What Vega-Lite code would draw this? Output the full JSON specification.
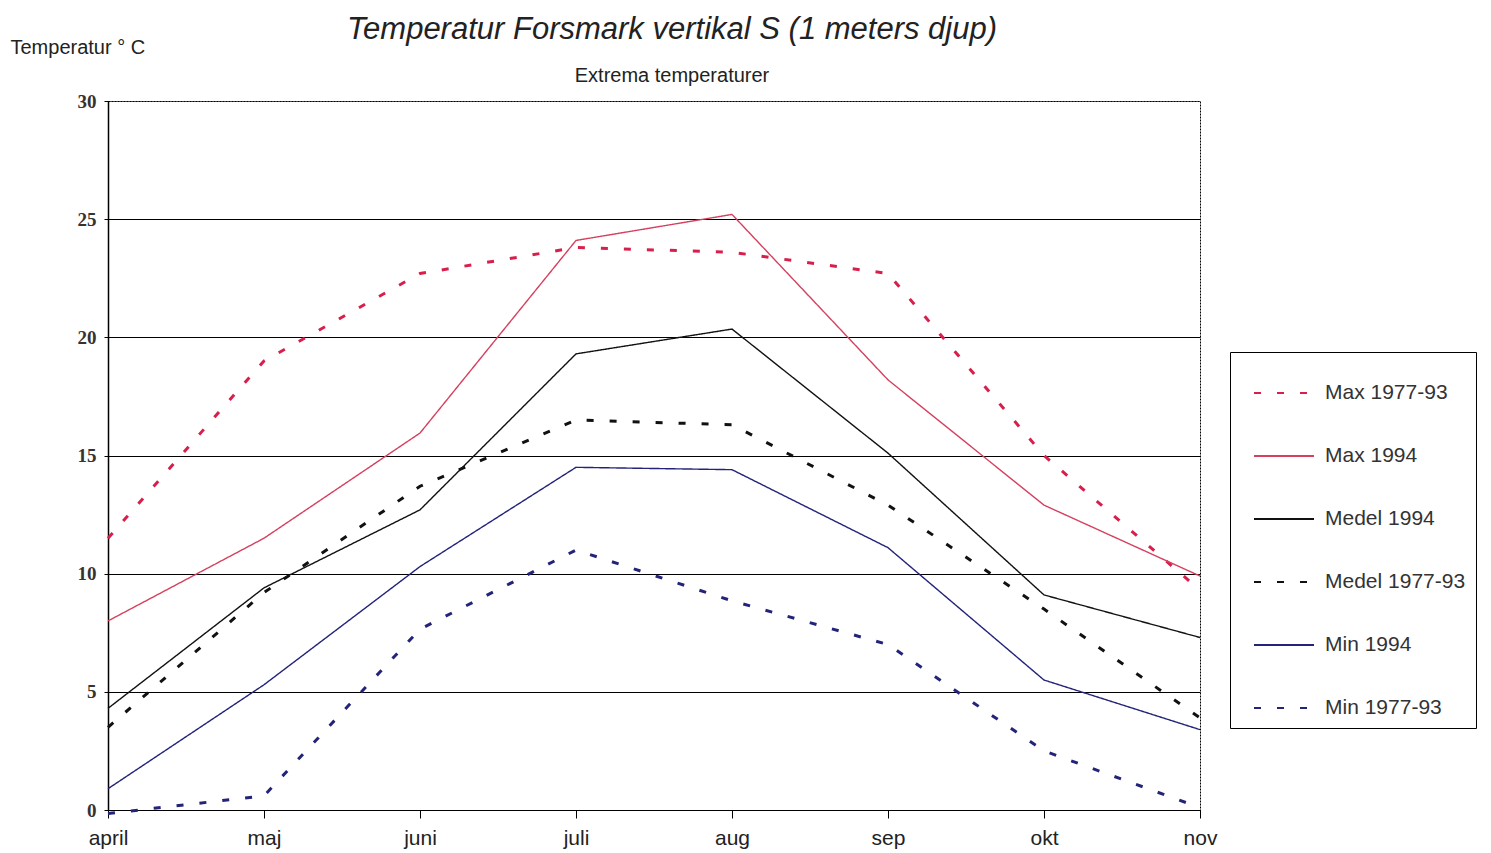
{
  "$schema": "https://vega.github.io/schema/vega-lite/v6.json",
  "width": 1092,
  "height": 709,
  "autosize": {"type": "none"},
  "padding": {"left": 108, "top": 101, "right": 291, "bottom": 43},
  "background": "white",
  "view": {"stroke": "black", "strokeDash": [2, 1], "strokeWidth": 1},
  "title": {
    "text": "Temperatur Forsmark vertikal S (1 meters djup)",
    "subtitle": "Extrema temperaturer",
    "font": "Liberation Sans",
    "fontSize": 31,
    "fontStyle": "italic",
    "fontWeight": "normal",
    "color": "#222",
    "subtitleFont": "Liberation Sans",
    "subtitleFontSize": 20,
    "subtitleColor": "#222",
    "subtitlePadding": 20,
    "anchor": "middle",
    "dx": 18,
    "dy": 70,
    "offset": 20
  },
  "data": {
    "values": [
      {"serie": "Max 1977-93", "month": "april", "temp": 11.5},
      {"serie": "Max 1977-93", "month": "maj", "temp": 19.0},
      {"serie": "Max 1977-93", "month": "juni", "temp": 22.7},
      {"serie": "Max 1977-93", "month": "juli", "temp": 23.8},
      {"serie": "Max 1977-93", "month": "aug", "temp": 23.6},
      {"serie": "Max 1977-93", "month": "sep", "temp": 22.7},
      {"serie": "Max 1977-93", "month": "okt", "temp": 15.0},
      {"serie": "Max 1977-93", "month": "nov", "temp": 9.3},
      {"serie": "Max 1994", "month": "april", "temp": 8.0},
      {"serie": "Max 1994", "month": "maj", "temp": 11.5},
      {"serie": "Max 1994", "month": "juni", "temp": 15.95},
      {"serie": "Max 1994", "month": "juli", "temp": 24.1},
      {"serie": "Max 1994", "month": "aug", "temp": 25.2},
      {"serie": "Max 1994", "month": "sep", "temp": 18.2},
      {"serie": "Max 1994", "month": "okt", "temp": 12.9},
      {"serie": "Max 1994", "month": "nov", "temp": 9.9},
      {"serie": "Medel 1994", "month": "april", "temp": 4.3},
      {"serie": "Medel 1994", "month": "maj", "temp": 9.4},
      {"serie": "Medel 1994", "month": "juni", "temp": 12.7},
      {"serie": "Medel 1994", "month": "juli", "temp": 19.3},
      {"serie": "Medel 1994", "month": "aug", "temp": 20.35},
      {"serie": "Medel 1994", "month": "sep", "temp": 15.1},
      {"serie": "Medel 1994", "month": "okt", "temp": 9.1},
      {"serie": "Medel 1994", "month": "nov", "temp": 7.3},
      {"serie": "Medel 1977-93", "month": "april", "temp": 3.5},
      {"serie": "Medel 1977-93", "month": "maj", "temp": 9.2},
      {"serie": "Medel 1977-93", "month": "juni", "temp": 13.7},
      {"serie": "Medel 1977-93", "month": "juli", "temp": 16.5},
      {"serie": "Medel 1977-93", "month": "aug", "temp": 16.3},
      {"serie": "Medel 1977-93", "month": "sep", "temp": 12.9},
      {"serie": "Medel 1977-93", "month": "okt", "temp": 8.5},
      {"serie": "Medel 1977-93", "month": "nov", "temp": 3.9},
      {"serie": "Min 1994", "month": "april", "temp": 0.9},
      {"serie": "Min 1994", "month": "maj", "temp": 5.3},
      {"serie": "Min 1994", "month": "juni", "temp": 10.3},
      {"serie": "Min 1994", "month": "juli", "temp": 14.5},
      {"serie": "Min 1994", "month": "aug", "temp": 14.4},
      {"serie": "Min 1994", "month": "sep", "temp": 11.1},
      {"serie": "Min 1994", "month": "okt", "temp": 5.5},
      {"serie": "Min 1994", "month": "nov", "temp": 3.4},
      {"serie": "Min 1977-93", "month": "april", "temp": -0.15},
      {"serie": "Min 1977-93", "month": "maj", "temp": 0.6},
      {"serie": "Min 1977-93", "month": "juni", "temp": 7.65},
      {"serie": "Min 1977-93", "month": "juli", "temp": 11.0},
      {"serie": "Min 1977-93", "month": "aug", "temp": 8.85},
      {"serie": "Min 1977-93", "month": "sep", "temp": 7.0},
      {"serie": "Min 1977-93", "month": "okt", "temp": 2.5},
      {"serie": "Min 1977-93", "month": "nov", "temp": 0.1}
    ]
  },
  "mark": {"type": "line", "clip": false},
  "encoding": {
    "x": {
      "field": "month",
      "type": "ordinal",
      "sort": ["april", "maj", "juni", "juli", "aug", "sep", "okt", "nov"],
      "scale": {"type": "point", "padding": 0},
      "axis": {
        "title": null,
        "labelAngle": 0,
        "labelFont": "Liberation Sans",
        "labelFontSize": 21,
        "labelColor": "#222",
        "labelPadding": 9,
        "tickColor": "black",
        "tickSize": 8,
        "domainColor": "black",
        "domainWidth": 1,
        "grid": false
      }
    },
    "y": {
      "field": "temp",
      "type": "quantitative",
      "scale": {"domain": [0, 30], "nice": false, "zero": false},
      "axis": {
        "values": [0, 5, 10, 15, 20, 25, 30],
        "title": "Temperatur ° C",
        "titleAngle": 0,
        "titleAlign": "left",
        "titleBaseline": "middle",
        "titleX": -98,
        "titleY": -54,
        "titleFont": "Liberation Sans",
        "titleFontSize": 20,
        "titleFontWeight": "normal",
        "titleColor": "#222",
        "labelFont": "Liberation Serif",
        "labelFontSize": 19,
        "labelFontWeight": "bold",
        "labelColor": "#333",
        "labelPadding": 8,
        "tickSize": 4,
        "tickColor": "black",
        "domainColor": "black",
        "domainWidth": 1.5,
        "grid": true,
        "gridColor": "black",
        "gridWidth": 1,
        "gridOpacity": 1,
        "gridDash": {"condition": {"test": "datum.value == 30", "value": [2, 1]}, "value": []}
      }
    },
    "color": {
      "field": "serie",
      "type": "nominal",
      "sort": ["Max 1977-93", "Max 1994", "Medel 1994", "Medel 1977-93", "Min 1994", "Min 1977-93"],
      "scale": {
        "domain": ["Max 1977-93", "Max 1994", "Medel 1994", "Medel 1977-93", "Min 1994", "Min 1977-93"],
        "range": ["#d81e4a", "#d5405e", "#111111", "#111111", "#23237a", "#23237a"]
      },
      "legend": {
        "title": null,
        "orient": "none",
        "legendX": 1122,
        "legendY": 251,
        "strokeColor": "black",
        "fillColor": "white",
        "padding": 10,
        "symbolType": "stroke",
        "symbolSize": 3600,
        "symbolStrokeWidth": 2,
        "symbolOffset": 13,
        "rowPadding": 22,
        "labelFont": "Liberation Sans",
        "labelFontSize": 21,
        "labelColor": "#333",
        "labelOffset": 10
      }
    },
    "strokeDash": {
      "field": "serie",
      "type": "nominal",
      "sort": ["Max 1977-93", "Max 1994", "Medel 1994", "Medel 1977-93", "Min 1994", "Min 1977-93"],
      "scale": {
        "domain": ["Max 1977-93", "Max 1994", "Medel 1994", "Medel 1977-93", "Min 1994", "Min 1977-93"],
        "range": [[7, 16], [1, 0], [1, 0], [7, 16], [1, 0], [7, 16]]
      },
      "legend": null
    },
    "strokeWidth": {
      "condition": {"test": "indexof(datum.serie, '1977') >= 0", "value": 3},
      "value": 1.4
    }
  }
}
